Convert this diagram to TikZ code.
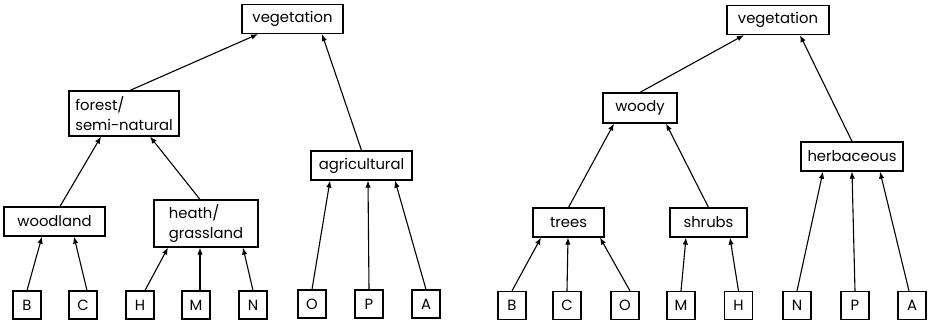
\documentclass[tikz,border=0pt]{standalone}
\usepackage{fontspec}
\setmainfont{Poppins}
\usepackage{tikz}
\usetikzlibrary{arrows.meta, positioning}

\begin{document}
\begin{tikzpicture}[
    x=1pt, y=1pt,
    font=\fontsize{14.8}{20}\selectfont,
    box/.style={rectangle, draw, line width=1.2pt, inner sep=2pt,
                minimum height=29pt},
    leaf/.style={box, minimum width=28pt, minimum height=28pt},
    arrow/.style={-{Latex[length=7pt, width=5.5pt]}, line width=1.1pt}
]
\useasboundingbox (0,0) rectangle (929,325);

% Left hierarchy
\node[box, minimum width=101pt] (vegL) at (292.5,306) {vegetation};
\node[box, minimum width=110pt, minimum height=45pt, align=left] (forest) at (124,211.5) {forest/\\semi-natural};
\node[box, minimum width=101pt] (agri) at (361.5,159.5) {agricultural};
\node[box, minimum width=101pt] (woodland) at (54.5,103.5) {woodland};
\node[box, minimum width=104pt, minimum height=47pt, align=left] (heath) at (206,101.5) {heath/\\grassland};

\node[leaf] (bL) at (27,20) {B};
\node[leaf] (cL) at (83,20) {C};
\node[leaf] (hL) at (140,20) {H};
\node[leaf] (mL) at (196,20) {M};
\node[leaf] (nL) at (253,20) {N};
\node[leaf] (oL) at (312,21) {O};
\node[leaf] (pL) at (369,21) {P};
\node[leaf] (aL) at (426,21) {A};

\draw[arrow] ([xshift=6pt]forest.north) -- ([xshift=-34.5pt]vegL.south);
\draw[arrow] (agri.north) -- ([xshift=29.5pt]vegL.south);
\draw[arrow] ([xshift=5.5pt]woodland.north) -- ([xshift=-23pt]forest.south);
\draw[arrow] ([xshift=-6pt]heath.north) -- ([xshift=26pt]forest.south);
\draw[arrow] (bL.north) -- ([xshift=-12.5pt]woodland.south);
\draw[arrow] ([xshift=4pt]cL.north) -- ([xshift=19.5pt]woodland.south);
\draw[arrow] ([xshift=5pt]hL.north) -- ([xshift=-38pt]heath.south);
\draw[arrow] ([xshift=4pt]mL.north) -- ([xshift=-6pt]heath.south);
\draw[arrow] (nL.north) -- ([xshift=37pt]heath.south);
\draw[arrow] (oL.north) -- ([xshift=-31.5pt]agri.south);
\draw[arrow] (pL.north) -- ([xshift=6.5pt]agri.south);
\draw[arrow] (aL.north) -- ([xshift=33.5pt]agri.south);

% Right hierarchy
\node[box, minimum width=102pt] (vegR) at (778,305) {vegetation};
\node[box, minimum width=74pt, minimum height=30pt] (woody) at (640,217) {woody};
\node[box, minimum width=102pt] (herb) at (852,168.5) {herbaceous};
\node[box, minimum width=71pt] (trees) at (568.5,102.5) {trees};
\node[box, minimum width=77pt] (shrubs) at (708.5,102.5) {shrubs};

\node[leaf] (bR) at (512,19.5) {B};
\node[leaf] (cR) at (567,19.5) {C};
\node[leaf] (oR) at (625,19.5) {O};
\node[leaf] (mR) at (681,19.5) {M};
\node[leaf] (hR) at (738.5,19.5) {H};
\node[leaf] (nR) at (797,19.5) {N};
\node[leaf] (pR) at (855,19.5) {P};
\node[leaf] (aR) at (912,19.5) {A};

\draw[arrow] (woody.north) -- ([xshift=-34pt]vegR.south);
\draw[arrow] (herb.north) -- ([xshift=22pt]vegR.south);
\draw[arrow] (trees.north) -- ([xshift=-26pt]woody.south);
\draw[arrow] (shrubs.north) -- ([xshift=26pt]woody.south);
\draw[arrow] (bR.north) -- ([xshift=-27.5pt]trees.south);
\draw[arrow] (cR.north) -- ([xshift=-0.5pt]trees.south);
\draw[arrow] ([xshift=5pt]oR.north) -- ([xshift=31.5pt]trees.south);
\draw[arrow] (mR.north) -- ([xshift=-22.5pt]shrubs.south);
\draw[arrow] (hR.north) -- ([xshift=21.5pt]shrubs.south);
\draw[arrow] (nR.north) -- ([xshift=-29pt]herb.south);
\draw[arrow] (pR.north) -- (herb.south);
\draw[arrow] ([xshift=-3pt]aR.north) -- ([xshift=28pt]herb.south);

\end{tikzpicture}
\end{document}
